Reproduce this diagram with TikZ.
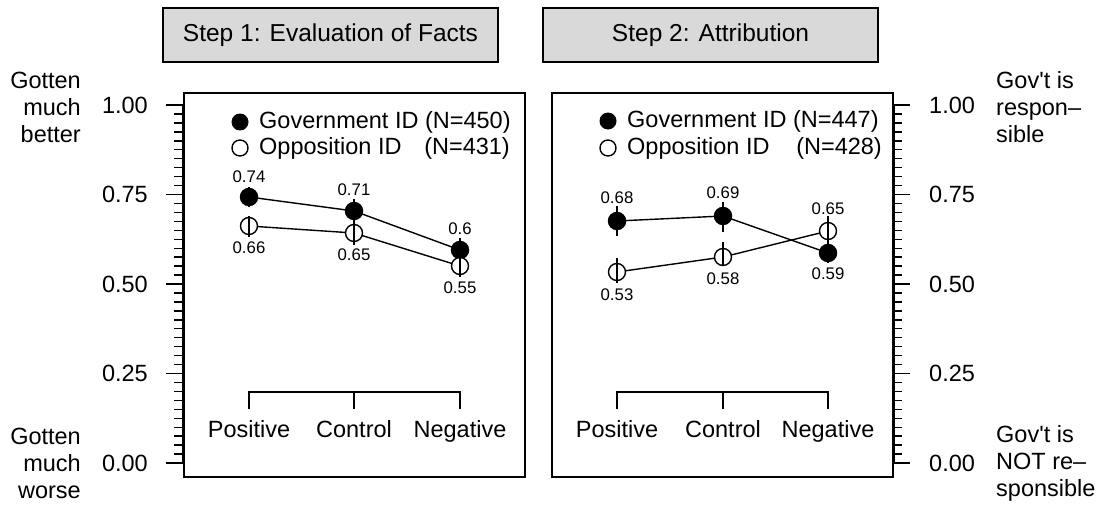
\documentclass[tikz,border=0pt]{standalone}
\usepackage{fontspec}
\setmainfont{Liberation Sans}
\definecolor{stripgray}{gray}{0.85}
\begin{document}
\begin{tikzpicture}[x=1pt,y=-1pt,
  big/.style={font=\fontsize{23.5}{27}\selectfont, inner sep=0pt},
  strip/.style={font=\fontsize{24.5}{28}\selectfont, inner sep=0pt},
  small/.style={font=\fontsize{16.8}{19}\selectfont, inner sep=0pt},
  panelbox/.style={draw, line width=1.5pt},
  stripbox/.style={draw, line width=1.4pt, fill=stripgray},
  gov/.style={circle, fill=black, minimum size=18.5pt, inner sep=0pt},
  opp/.style={circle, draw, fill=white, line width=1.4pt, minimum size=17pt, inner sep=0pt},
  dline/.style={line width=1.4pt},
  ebar/.style={line width=1.5pt},
  tick/.style={line width=1.4pt},
]
\useasboundingbox (0,0) rectangle (1098,506);

% strips
\draw[stripbox] (163,8) rectangle (498,62);
\node[strip] (s1) at (330.5,35) {Step 1: Evaluation of Facts};
\draw[stripbox] (543,8) rectangle (878,62);
\node[strip] (s2) at (710.5,35) {Step 2: Attribution};

% panels
\draw[panelbox] (184,93) rectangle (525,477);
\draw[panelbox] (552,93) rectangle (893,477);

% left axis
\draw[tick] (183,105) -- (183,463);
\foreach \i in {0,...,40} {
  \pgfmathsetmacro\yy{463-358*\i/40}
  \draw[tick] (174,\yy) -- (183,\yy);
}
\foreach \v/\t in {0/0.00,0.25/0.25,0.5/0.50,0.75/0.75,1/1.00} {
  \pgfmathsetmacro\yy{463-358*\v}
  \draw[tick] (166,\yy) -- (183,\yy);
  \node[big, anchor=east] at (148,\yy) {\t};
}
% right axis
\draw[tick] (894,105) -- (894,463);
\foreach \i in {0,...,40} {
  \pgfmathsetmacro\yy{463-358*\i/40}
  \draw[tick] (894,\yy) -- (902,\yy);
}
\foreach \v/\t in {0/0.00,0.25/0.25,0.5/0.50,0.75/0.75,1/1.00} {
  \pgfmathsetmacro\yy{463-358*\v}
  \draw[tick] (894,\yy) -- (910,\yy);
  \node[big, anchor=west] at (929,\yy) {\t};
}

% side labels
\node[big, anchor=east, align=right] (lt) at (81,107) {Gotten\\much\\better};
\node[big, anchor=east, align=right] (lb) at (81,463) {Gotten\\much\\worse};
\node[big, anchor=west, align=left] (rt) at (996,107) {Gov\textquotesingle t is\\respon–\\sible};
\node[big, anchor=west, align=left] (rb) at (996,463) {Gov\textquotesingle t is\\NOT re–\\sponsible};

% category brackets
\foreach \a/\b/\c in {249/354/460, 617/723/828} {
  \draw[tick] (\a,409) -- (\a,392) -- (\c,392) -- (\c,409);
  \draw[tick] (\b,392) -- (\b,409);
  \node[big, anchor=base] at (\a,437.5) {Positive};
  \node[big, anchor=base] at (\b,437.5) {Control};
  \node[big, anchor=base] at (\c,437.5) {Negative};
}

% legends
\node[gov, minimum size=17pt] (lg1) at (240,122) {};
\node[big, anchor=west] (lgt1) at (259,122) {Government ID (N=450)};
\node[opp, minimum size=16pt] (lo1) at (240,148) {};
\node[big, anchor=west] (lot1) at (259,148) {Opposition ID};
\node[big, anchor=east] (lon1) at (510,148) {(N=431)};

\node[gov, minimum size=17pt] (lg2) at (608,121) {};
\node[big, anchor=west] (lgt2) at (627,121) {Government ID (N=447)};
\node[opp, minimum size=16pt] (lo2) at (608,148) {};
\node[big, anchor=west] (lot2) at (627,148) {Opposition ID};
\node[big, anchor=east] (lon2) at (882,148) {(N=428)};

% ---- panel 1 data
\coordinate (g1a) at (249,197); \coordinate (g1b) at (354,211); \coordinate (g1c) at (460,250);
\coordinate (o1a) at (249,226); \coordinate (o1b) at (354,233); \coordinate (o1c) at (460,266);
\draw[dline] (g1a) -- (g1b) -- (g1c);
\draw[dline] (o1a) -- (o1b) -- (o1c);
\node[gov] (G1a) at (g1a) {}; \node[gov] (G1b) at (g1b) {}; \node[gov] (G1c) at (g1c) {};
\node[opp] (O1a) at (o1a) {}; \node[opp] (O1b) at (o1b) {}; \node[opp] (O1c) at (o1c) {};
\draw[ebar] (249,187) -- (249,207);
\draw[ebar] (354,199) -- (354,222);
\draw[ebar] (460,238) -- (460,261);
\draw[ebar] (249,216) -- (249,237);
\draw[ebar] (354,222) -- (354,245);
\draw[ebar] (460,256) -- (460,277);
\node[small] at (249,177) {0.74};
\node[small] at (354,190) {0.71};
\node[small] at (460,229) {0.6};
\node[small] at (249,248) {0.66};
\node[small] at (354,255) {0.65};
\node[small] at (460,288) {0.55};

% ---- panel 2 data
\coordinate (g2a) at (617,221); \coordinate (g2b) at (723,216); \coordinate (g2c) at (828,253);
\coordinate (o2a) at (617,272); \coordinate (o2b) at (723,257); \coordinate (o2c) at (828,231);
\draw[dline] (g2a) -- (g2b) -- (g2c);
\draw[dline] (o2a) -- (o2b) -- (o2c);
\node[gov] (G2a) at (g2a) {}; \node[gov] (G2b) at (g2b) {}; \node[gov] (G2c) at (g2c) {};
\node[opp] (O2a) at (o2a) {}; \node[opp] (O2b) at (o2b) {}; \node[opp] (O2c) at (o2c) {};
\draw[ebar] (617,206) -- (617,236);
\draw[ebar] (723,202) -- (723,232);
\draw[ebar] (828,244) -- (828,263);
\draw[ebar] (617,258) -- (617,283);
\draw[ebar] (723,242) -- (723,266);
\draw[ebar] (828,216) -- (828,247);
\node[small] at (617,198) {0.68};
\node[small] at (723,193) {0.69};
\node[small] at (828,274) {0.59};
\node[small] at (617,295) {0.53};
\node[small] at (723,279) {0.58};
\node[small] at (828,209) {0.65};
\end{tikzpicture}
\end{document}
